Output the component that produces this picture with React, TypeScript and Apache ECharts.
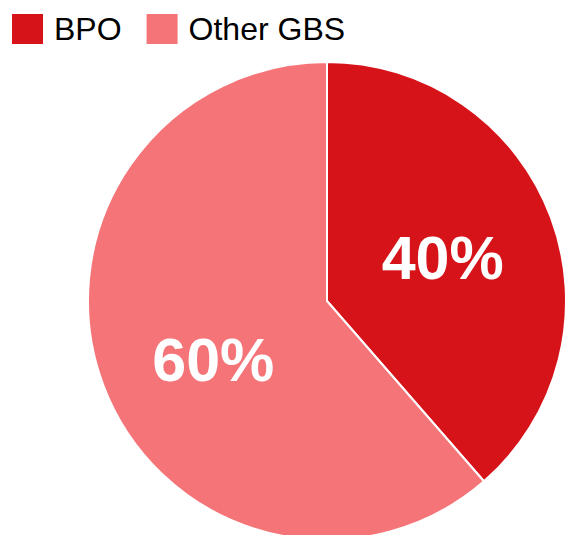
import React, { useEffect, useRef } from "react";
import * as echarts from "echarts";

const categories = ["BPO", "Other GBS"];
const values = [38.6, 61.4];
const labels = ["40%", "60%"];
const colors = ["#D7131A", "#F47478"];
const labelOffsets = [[1, 0], [1, 16]];

export default function App() {
  const ref = useRef<HTMLDivElement>(null);
  useEffect(() => {
    if (!ref.current) return;
    const chart = echarts.init(ref.current, undefined, { renderer: "svg" });
    chart.setOption({
      animation: false,
      legend: {
        left: 10,
        top: 12,
        padding: 0,
        itemWidth: 33,
        itemHeight: 32,
        itemGap: 23,
        icon: "rect",
        data: categories,
        textStyle: {
          fontFamily: "Liberation Sans, Arial, sans-serif",
          fontSize: 32,
          color: "#000",
          padding: [0, 0, 0, 5],
        },
      },
      series: [
        {
          type: "pie",
          center: [327, 301],
          radius: [0, 239],
          startAngle: 90,
          clockwise: true,
          itemStyle: { borderColor: "#fff", borderWidth: 2 },
          label: {
            show: true,
            position: "inside",
            formatter: (p: any) => labels[p.dataIndex],
            color: "#fff",
            fontWeight: "bold",
            fontSize: 61,
            fontFamily: "Liberation Sans, Arial, sans-serif",
          },
          labelLine: { show: false },
          emphasis: { disabled: true },
          data: categories.map((name, i) => ({
            name,
            value: values[i],
            itemStyle: { color: colors[i] },
            label: { offset: labelOffsets[i] },
          })),
        },
      ],
    });
    return () => chart.dispose();
  }, []);
  return <div ref={ref} style={{ width: 566, height: 535, position: "absolute", left: 0, top: 0 }} />;
}
